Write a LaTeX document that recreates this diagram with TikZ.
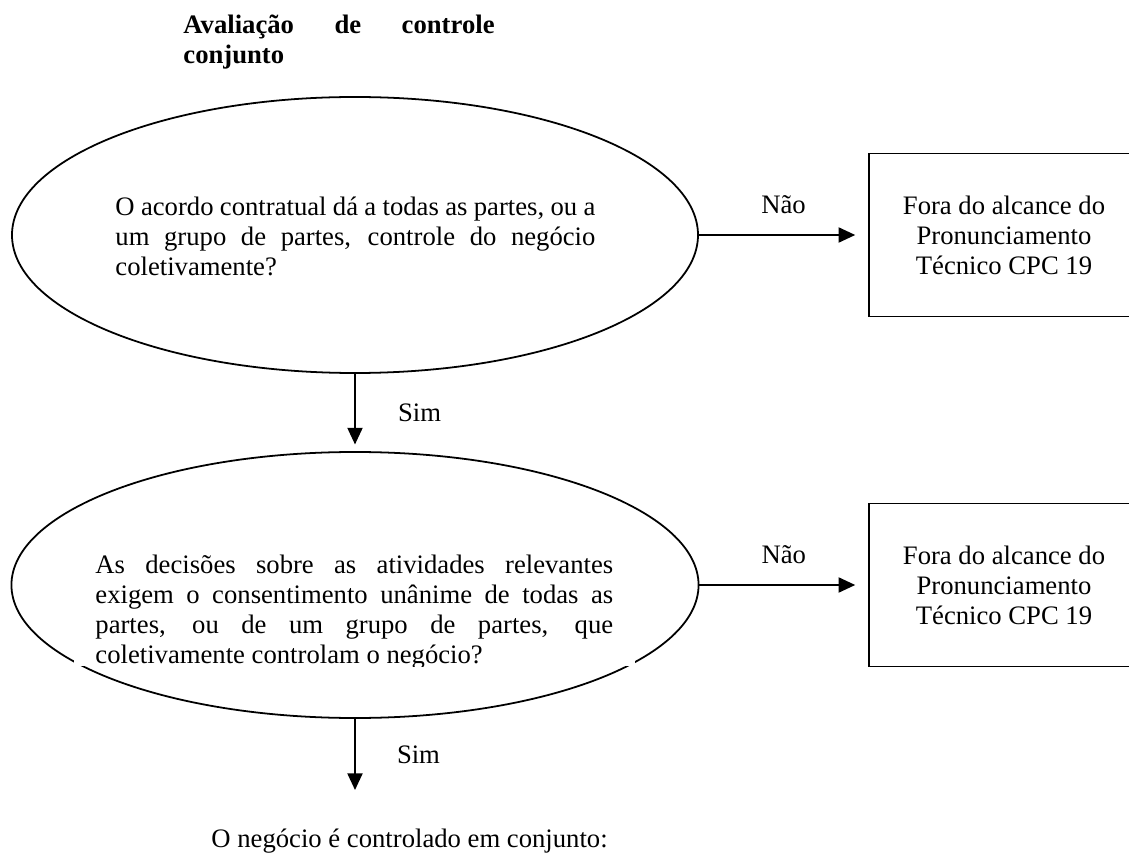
\documentclass[tikz,border=0pt]{standalone}
\usepackage{fontspec}
\setmainfont{Liberation Serif}
\usetikzlibrary{arrows.meta,shapes.geometric,positioning}

\begin{document}
\begin{tikzpicture}[x=0.45pt,y=-0.45pt,
  font=\fontsize{12}{13.5}\selectfont,
  pergunta/.style={draw,ellipse,line width=0.8pt,inner sep=0pt},
  fora/.style={draw,rectangle,line width=0.8pt,minimum width=121.5pt,minimum height=73.4pt,align=center},
  texto/.style={inner sep=0pt,text width=#1,align=justify},
  seta/.style={-{Triangle[length=7.5pt,width=6.8pt]},line width=0.8pt}]
\useasboundingbox (0,0) rectangle (1129,854);

\node[inner sep=0pt,anchor=north west,text width=140pt,align=left,font=\fontsize{12}{13.5}\selectfont\bfseries] (titulo) at (183,14) {Avaliação\hfill de\hfill controle\\conjunto};

\node[pergunta,minimum width=308.7pt,minimum height=124.2pt] (q1) at (355,235) {};
\node[texto=216pt,anchor=north west] (t1) at (115,197) {O acordo contratual dá a todas as partes, ou a\linebreak um grupo de partes, controle do negócio\linebreak coletivamente?};
\node[fora] (r1) at (1004,235) {Fora do alcance do\\Pronunciamento\\Técnico CPC 19};
\draw[seta,shorten >=5.8pt] (q1.east) -- (q1.east -| r1.west) node[midway,above=9pt,inner sep=0pt] {Não};

\node[pergunta,minimum width=309.2pt,minimum height=119.7pt] (q2) at (355,585) {};
\fill[white] (74,520) rectangle (635,666);
\begin{scope}
\clip (74,520) rectangle (635,666);
\node[texto=233pt,anchor=north west] (t2) at (95,555) {As decisões sobre as atividades relevantes\linebreak exigem o consentimento unânime de todas as\linebreak partes, ou de um grupo de partes, que\linebreak coletivamente controlam o negócio?};
\end{scope}
\node[fora] (r2) at (1004,585) {Fora do alcance do\\Pronunciamento\\Técnico CPC 19};
\draw[seta,shorten >=5.8pt] (q2.east) -- (q2.east -| r2.west) node[midway,above=9pt,inner sep=0pt] {Não};

\draw[seta,shorten >=3pt] (q1.south) -- (q2.north) node[midway,right=19pt,inner sep=0pt] {Sim};
\coordinate (fim) at (355,790);
\draw[seta] (q2.south) -- (fim) node[midway,right=18.5pt,inner sep=0pt] {Sim};

\node[inner sep=0pt,anchor=base west] (conclusao) at (211,847) {O negócio é controlado em conjunto:};
\end{tikzpicture}
\end{document}
